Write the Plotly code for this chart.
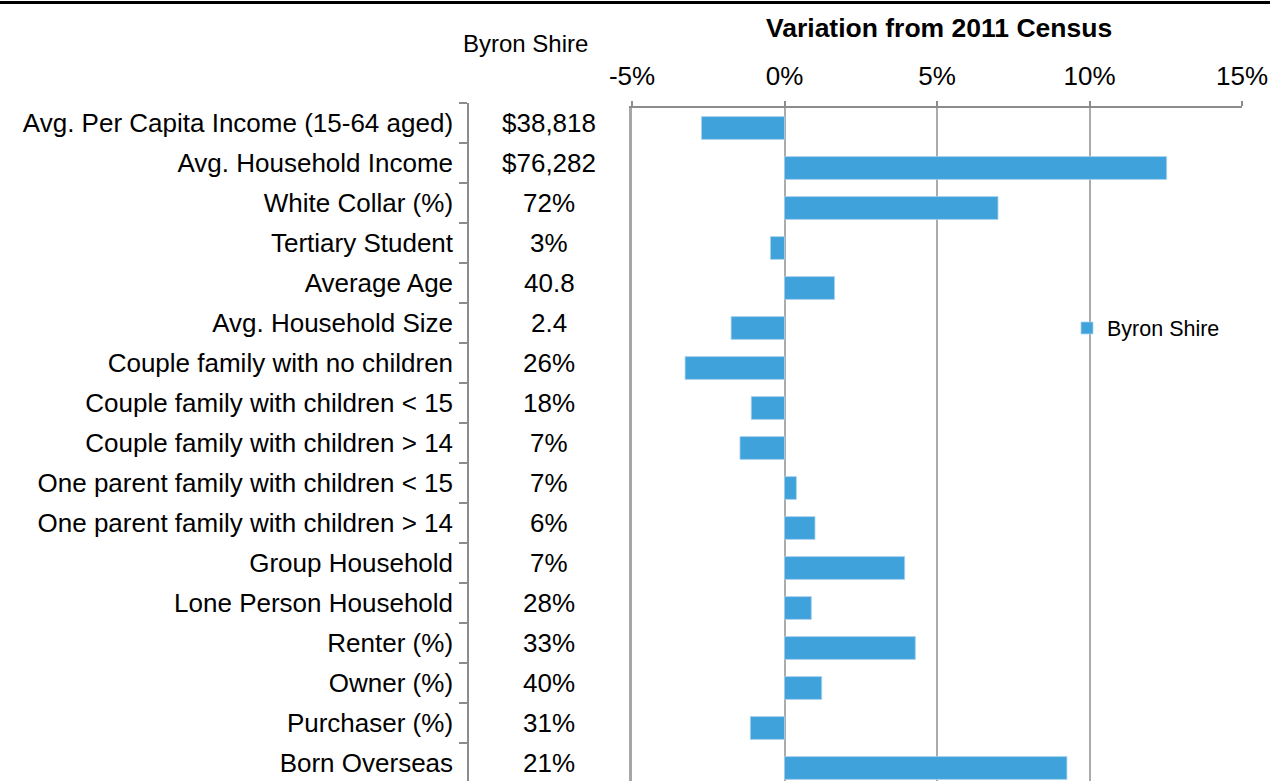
"""Byron Shire demographic profile: 2016 values and variation from the 2011 Census."""

import plotly.graph_objects as go

W, H = 1270, 781

CATEGORIES = [
    "Avg. Per Capita Income (15-64 aged)",
    "Avg. Household Income",
    "White Collar (%)",
    "Tertiary Student",
    "Average Age",
    "Avg. Household Size",
    "Couple family with no children",
    "Couple family with children < 15",
    "Couple family with children > 14",
    "One parent family with children < 15",
    "One parent family with children > 14",
    "Group Household",
    "Lone Person Household",
    "Renter (%)",
    "Owner (%)",
    "Purchaser (%)",
    "Born Overseas",
]
BYRON_VALUES = ["$38,818", "$76,282", "72%", "3%", "40.8", "2.4", "26%", "18%", "7%",
                "7%", "6%", "7%", "28%", "33%", "40%", "31%", "21%"]
VARIATION = [-2.72, 12.53, 7.0, -0.46, 1.64, -1.75, -3.26, -1.09, -1.46,
             0.39, 1.0, 3.94, 0.88, 4.29, 1.22, -1.12, 9.26]
X_TICKS = [-5, 0, 5, 10, 15]
X_TICK_TEXT = ["-5%", "0%", "5%", "10%", "15%"]

FONT = "Liberation Sans, Arial, sans-serif"
BLUE = "#40A2DB"
GRID = "#ABABAB"
AXIS = "#8C8C8C"

# plot box in pixels
px_left, px_right, px_top = 632, 1242, 108
row_h = 40
main_top = (H - px_top) / H
main_range = [-0.5 + (H - px_top) / row_h, -0.5]

tbl_top_px = 102.7
tbl_top = (H - tbl_top_px) / H
tbl_range = [-0.5 + (H - tbl_top_px) / row_h, -0.5]

fig = go.Figure()
fig.add_trace(go.Bar(
    x=VARIATION, y=CATEGORIES, orientation="h", name="Byron Shire",
    marker=dict(color=BLUE, line=dict(color="#A9D3EE", width=0.8)),
    width=0.57, xaxis="x", yaxis="y",
))
# invisible helper trace that carries the category axis on the left
fig.add_trace(go.Bar(
    x=[0] * len(CATEGORIES), y=CATEGORIES, orientation="h", showlegend=False,
    hoverinfo="skip", marker=dict(color="rgba(0,0,0,0)", line=dict(width=0)),
    xaxis="x2", yaxis="y2",
))

for cat, val in zip(CATEGORIES, BYRON_VALUES):
    fig.add_annotation(x=549 / W, y=cat, xref="paper", yref="y2", text=val,
                       showarrow=False, xanchor="center", yanchor="middle",
                       font=dict(size=26, color="#000000", family=FONT))

fig.add_annotation(x=939.5 / W, y=(H - 28) / H, xref="paper", yref="paper",
                   text="<b>Variation from 2011 Census</b>", showarrow=False,
                   xanchor="center", yanchor="middle",
                   font=dict(size=26.5, color="#000000", family=FONT))
fig.add_annotation(x=525 / W, y=(H - 43) / H, xref="paper", yref="paper",
                   text="Byron Shire", showarrow=False,
                   xanchor="center", yanchor="middle",
                   font=dict(size=24, color="#000000", family=FONT))

# thick rule across the very top
fig.add_shape(type="line", xref="paper", yref="paper", x0=0, x1=1,
              y0=(H - 2.5) / H, y1=(H - 2.5) / H,
              line=dict(color="#000000", width=3))

fig.update_layout(
    width=W, height=H,
    margin=dict(l=0, r=0, t=0, b=0, autoexpand=False),
    paper_bgcolor="white", plot_bgcolor="white",
    font=dict(family=FONT, color="#000000"),
    showlegend=True,
    legend=dict(x=1067 / W, y=(H - 328) / H, xanchor="left", yanchor="middle",
                bgcolor="rgba(0,0,0,0)", font=dict(size=21.5, color="#000000")),
    xaxis=dict(
        domain=[px_left / W, px_right / W], range=[-5, 15], side="top",
        tickvals=X_TICKS, ticktext=X_TICK_TEXT,
        tickfont=dict(size=26, color="#000000"), ticklabelstandoff=6,
        showgrid=True, gridcolor=GRID, gridwidth=2, zeroline=False,
        showline=True, linecolor=AXIS, linewidth=2,
        ticks="outside", ticklen=5, tickcolor=AXIS, tickwidth=2,
        anchor="y", fixedrange=True, automargin=False,
    ),
    yaxis=dict(
        domain=[0, main_top], range=main_range, type="category",
        showticklabels=False, showgrid=False, zeroline=False,
        showline=True, linecolor="#A6A6A6", linewidth=3, ticks="",
        anchor="x", fixedrange=True, automargin=False,
    ),
    xaxis2=dict(domain=[469 / W, px_left / W], range=[0, 1], visible=False,
                anchor="y2", fixedrange=True, automargin=False),
    yaxis2=dict(
        domain=[0, tbl_top], range=tbl_range, type="category", anchor="x2",
        showline=True, linecolor=AXIS, linewidth=1.5,
        ticks="outside", ticklen=8, tickcolor=AXIS, tickwidth=1.5,
        tickson="boundaries", showgrid=False, zeroline=False,
        tickfont=dict(size=26, color="#000000"), ticklabelstandoff=9,
        fixedrange=True, automargin=False,
    ),
)

# the page's default body margin would shift the figure by 8px
fig.write_html("out.html", config={"displayModeBar": False},
               post_script="document.body.style.margin='0';")
